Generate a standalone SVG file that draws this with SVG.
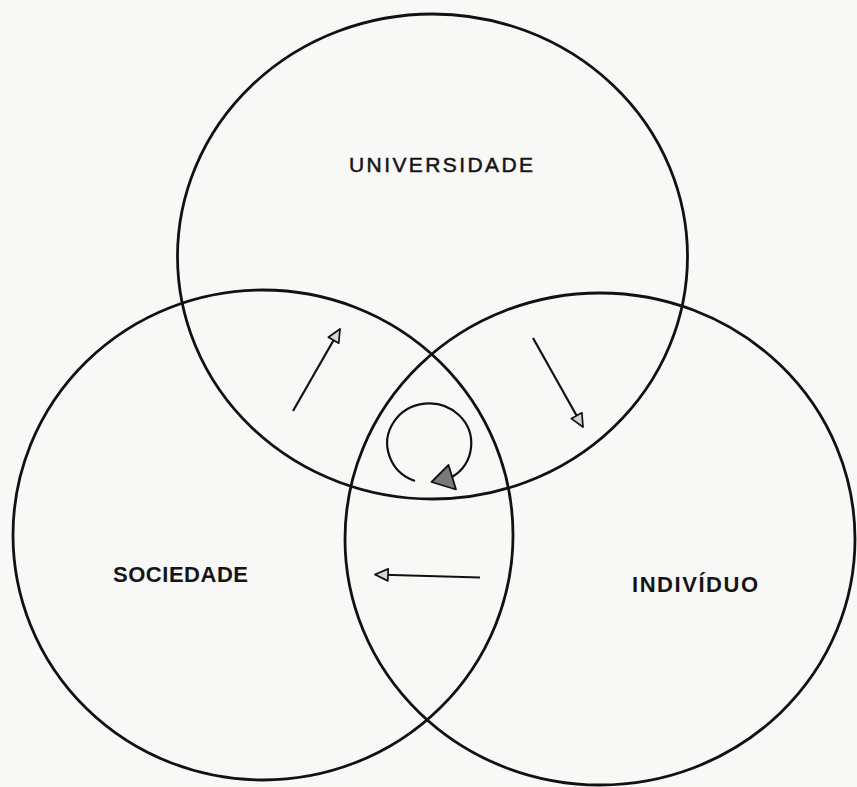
<svg xmlns="http://www.w3.org/2000/svg" width="857" height="787" viewBox="0 0 857 787">
  <style>
    .ring { fill: none; stroke: #111; stroke-width: 2.8; }
    .lbl { font-family: "Liberation Sans", "DejaVu Sans", Arial, sans-serif; fill: #151515; }
    .arr { fill: none; stroke: #111; stroke-width: 2.2; }
  </style>
  <defs>
    <marker id="head" viewBox="0 0 15 15" refX="14" refY="7.5" markerWidth="15" markerHeight="15" markerUnits="userSpaceOnUse" orient="auto">
      <path d="M1,1.5 L14,7.5 L1,13.5 z" fill="#d6d6d6" stroke="#111" stroke-width="1.7" stroke-linejoin="round"/>
    </marker>
  </defs>
  <rect width="857" height="787" fill="#f8f8f6"/>

  <g id="universidade">
    <ellipse class="ring" cx="432.5" cy="256.5" rx="255" ry="242.5"/>
    <text class="lbl" x="349" y="172" font-size="21" stroke="#151515" stroke-width="0.5" textLength="184" lengthAdjust="spacing">UNIVERSIDADE</text>
  </g>
  <g id="sociedade">
    <ellipse class="ring" cx="263" cy="535" rx="250" ry="245"/>
    <text class="lbl" x="113" y="582" font-size="22" font-weight="bold" textLength="135" lengthAdjust="spacing">SOCIEDADE</text>
  </g>
  <g id="individuo">
    <ellipse class="ring" cx="600" cy="539" rx="255" ry="246"/>
    <text class="lbl" x="632" y="592" font-size="22" font-weight="bold" textLength="126" lengthAdjust="spacing">INDIVÍDUO</text>
  </g>

  <g id="connectors">
    <line class="arr" x1="293" y1="411" x2="340" y2="329" marker-end="url(#head)"/>
    <line class="arr" x1="533" y1="338" x2="583" y2="427" marker-end="url(#head)"/>
    <line class="arr" x1="480" y1="577.5" x2="375" y2="574.5" marker-end="url(#head)"/>
    <path class="arr" d="M 415 481 A 42 40 0 1 1 452 477"/>
    <path d="M 431.5 482 L 448.5 465 L 456 489.5 z" fill="#7a7a7a" stroke="#111" stroke-width="1.8" stroke-linejoin="round"/>
  </g>
</svg>
